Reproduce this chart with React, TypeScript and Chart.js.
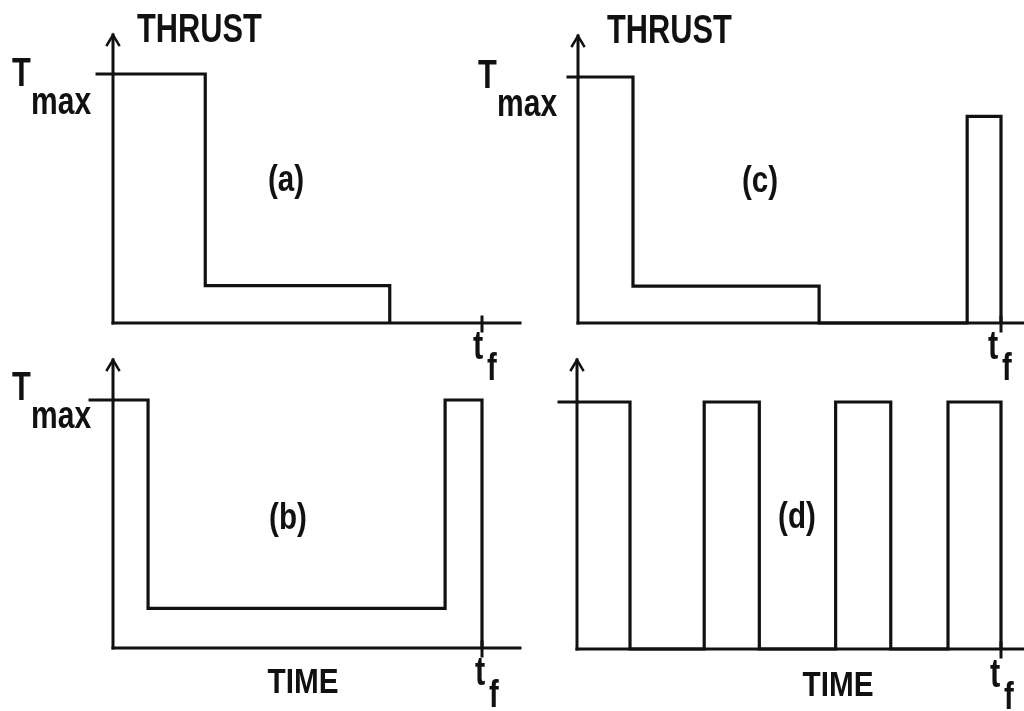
import React, { useEffect, useRef } from "react";
import { Chart, registerables } from "chart.js";

Chart.register(...registerables);

// Thrust programmes. Time is a fraction of t_f, thrust a fraction of T_max.
// Each entry: the time at which the thrust switches and the level held from it.
const timeA = [0, 0.25, 0.75];
const thrustA = [1, 0.15, 0];

const timeB = [0, 0.095, 0.9, 1.0];
const thrustB = [1, 0.16, 1, 0];

const timeC = [0, 0.13, 0.57, 0.92, 1.0];
const thrustC = [1, 0.15, 0, 0.84, 0];

const timeD = [0, 0.125, 0.3, 0.43, 0.61, 0.74, 0.875, 1.0];
const thrustD = [1, 0, 1, 0, 1, 0, 1, 0];

const tagLabels = ["(a)", "(b)", "(c)", "(d)"];
const axisTitleY = "THRUST";
const axisTitleX = "TIME";

const W = 1024;
const H = 711;
const INK = "#111";
const FONT = "'Liberation Sans', Arial, sans-serif";

type Off = { dx: number; dy: number } | null;
type Panel = {
  time: number[];
  thrust: number[];
  tag: string;
  pad: { left: number; right: number; top: number; bottom: number };
  axisEnd: number;
  arrowLen: number;
  tmaxTick: number;
  tmaxLabel: Off;
  thrustLabel: Off;
  timeLabel: Off;
  tfLabel: { dx: number; dy: number; fdy: number };
  tagPos: { dx: number; dy: number };
};

const panels: Panel[] = [
  {
    time: timeA,
    thrust: thrustA,
    tag: tagLabels[0],
    pad: { left: 113, right: W - 482, top: 74, bottom: H - 323 },
    axisEnd: 520,
    arrowLen: 39,
    tmaxTick: 16,
    tmaxLabel: { dx: -101, dy: 12 },
    thrustLabel: { dx: 24, dy: -32 },
    timeLabel: null,
    tfLabel: { dx: -9, dy: 36, fdy: 57 },
    tagPos: { dx: 173, dy: 117 },
  },
  {
    time: timeB,
    thrust: thrustB,
    tag: tagLabels[1],
    pad: { left: 113, right: W - 482, top: 400, bottom: H - 648 },
    axisEnd: 520,
    arrowLen: 40,
    tmaxTick: 23,
    tmaxLabel: { dx: -101, dy: 0 },
    thrustLabel: null,
    timeLabel: { dx: 190, dy: 45 },
    tfLabel: { dx: -7, dy: 37, fdy: 59 },
    tagPos: { dx: 175, dy: 129 },
  },
  {
    time: timeC,
    thrust: thrustC,
    tag: tagLabels[2],
    pad: { left: 578, right: W - 1001, top: 77, bottom: H - 323 },
    axisEnd: 1024,
    arrowLen: 41,
    tmaxTick: 10,
    tmaxLabel: { dx: -100, dy: 11 },
    thrustLabel: { dx: 29, dy: -34 },
    timeLabel: null,
    tfLabel: { dx: -13, dy: 36, fdy: 57 },
    tagPos: { dx: 182, dy: 115 },
  },
  {
    time: timeD,
    thrust: thrustD,
    tag: tagLabels[3],
    pad: { left: 577, right: W - 1001, top: 402, bottom: H - 649 },
    axisEnd: 1024,
    arrowLen: 42,
    tmaxTick: 18,
    tmaxLabel: null,
    thrustLabel: null,
    timeLabel: { dx: 261, dy: 47 },
    tfLabel: { dx: -11, dy: 38, fdy: 60 },
    tagPos: { dx: 220, dy: 126 },
  },
];

function txt(
  ctx: CanvasRenderingContext2D,
  s: string,
  x: number,
  y: number,
  size: number,
  align: CanvasTextAlign = "left",
  sx = 0.77
) {
  ctx.save();
  ctx.translate(x, y);
  ctx.scale(sx, 1);
  ctx.font = `bold ${size}px ${FONT}`;
  ctx.textAlign = align;
  ctx.textBaseline = "alphabetic";
  ctx.fillStyle = INK;
  ctx.fillText(s, 0, 0);
  ctx.restore();
}

function line(ctx: CanvasRenderingContext2D, x1: number, y1: number, x2: number, y2: number) {
  ctx.beginPath();
  ctx.moveTo(x1, y1);
  ctx.lineTo(x2, y2);
  ctx.stroke();
}

function makeDecor(p: Panel) {
  return {
    id: "decor",
    afterDatasetsDraw(chart: any) {
      const ctx: CanvasRenderingContext2D = chart.ctx;
      const xs = chart.scales.x;
      const ys = chart.scales.y;
      const x0 = xs.getPixelForValue(0);
      const xtf = xs.getPixelForValue(1);
      const y0 = ys.getPixelForValue(0);
      const yT = ys.getPixelForValue(1);
      ctx.save();
      ctx.strokeStyle = INK;
      ctx.lineWidth = 3;
      ctx.lineCap = "square";
      // axes
      const tipY = yT - p.arrowLen;
      line(ctx, x0, y0, x0, tipY);
      line(ctx, x0, y0, p.axisEnd, y0);
      // arrow head
      ctx.lineWidth = 2.5;
      ctx.beginPath();
      ctx.moveTo(x0 - 6, tipY + 10);
      ctx.lineTo(x0, tipY);
      ctx.lineTo(x0 + 6, tipY + 10);
      ctx.stroke();
      ctx.lineWidth = 3;
      // ticks
      line(ctx, x0 - p.tmaxTick, yT, x0, yT);
      line(ctx, xtf, y0 - 6, xtf, y0 + 8);
      ctx.restore();

      if (p.tmaxLabel) {
        const lx = x0 + p.tmaxLabel.dx;
        const ly = yT + p.tmaxLabel.dy;
        txt(ctx, "T", lx, ly, 40);
        txt(ctx, "max", lx + 19, ly + 28, 39);
      }
      if (p.thrustLabel) {
        txt(ctx, axisTitleY, x0 + p.thrustLabel.dx, yT + p.thrustLabel.dy, 40);
      }
      if (p.timeLabel) {
        txt(ctx, axisTitleX, x0 + p.timeLabel.dx, y0 + p.timeLabel.dy, 35, "center", 0.85);
      }
      txt(ctx, "t", xtf + p.tfLabel.dx, y0 + p.tfLabel.dy, 40);
      txt(ctx, "f", xtf + p.tfLabel.dx + 14, y0 + p.tfLabel.fdy, 38);
      txt(ctx, p.tag, x0 + p.tagPos.dx, yT + p.tagPos.dy, 37, "center", 0.8);
    },
  };
}

function PanelChart({ p }: { p: Panel }) {
  const ref = useRef<HTMLCanvasElement | null>(null);
  useEffect(() => {
    if (!ref.current) return;
    const chart = new Chart(ref.current, {
      type: "line",
      data: {
        datasets: [
          {
            data: p.time.map((t, i) => ({ x: t, y: p.thrust[i] })),
            borderColor: INK,
            borderWidth: 3.2,
            pointRadius: 0,
            stepped: "before",
            fill: false,
            clip: false,
          } as any,
        ],
      },
      options: {
        animation: false,
        responsive: false,
        devicePixelRatio: 1,
        events: [],
        layout: { padding: p.pad },
        plugins: { legend: { display: false }, tooltip: { enabled: false }, title: { display: false } },
        scales: {
          x: { type: "linear", min: 0, max: 1, display: false },
          y: { type: "linear", min: 0, max: 1, display: false },
        },
      },
      plugins: [makeDecor(p)],
    });
    return () => chart.destroy();
  }, [p]);
  return (
    <canvas
      ref={ref}
      width={W}
      height={H}
      style={{ position: "absolute", left: 0, top: 0, width: W, height: H }}
    />
  );
}

export default function App() {
  return (
    <div style={{ position: "absolute", left: 0, top: 0, width: W, height: H, background: "#fff", overflow: "hidden" }}>
      {panels.map((p, i) => (
        <PanelChart key={i} p={p} />
      ))}
    </div>
  );
}
